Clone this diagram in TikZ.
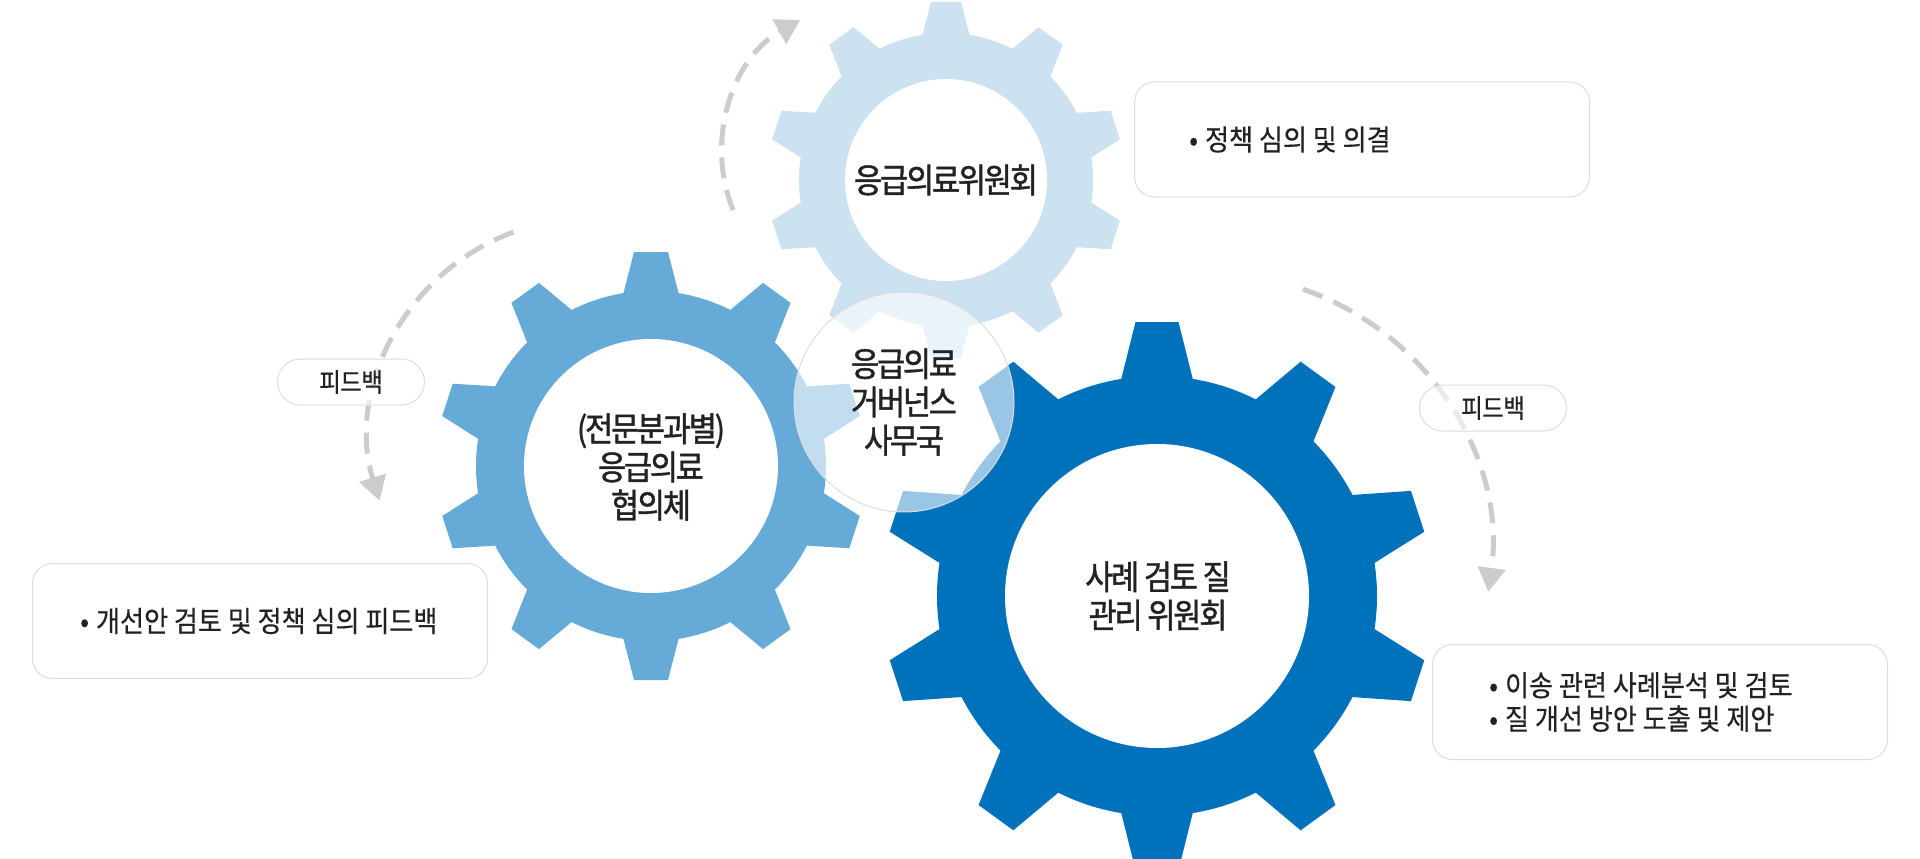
\documentclass[tikz,border=0pt]{standalone}
\usepackage{fontspec}
\setmainfont{Noto Sans CJK KR}
\newfontfamily\gearfont[LetterSpace=-6.5,FakeStretch=0.9,FakeBold=1.2]{Noto Sans CJK KR}
\newfontfamily\boxfont[LetterSpace=0,FakeStretch=0.9,FakeBold=0.4]{Noto Sans CJK KR}
\newfontfamily\pillfont[LetterSpace=-2,FakeStretch=0.9,FakeBold=0.4]{Noto Sans CJK KR}
\usetikzlibrary{arrows.meta}
\definecolor{gearlight}{HTML}{CCE2F1}
\definecolor{gearmid}{HTML}{66AAD7}
\definecolor{geardark}{HTML}{0072BC}
\definecolor{dashgray}{HTML}{CCCCCC}
\definecolor{boxline}{HTML}{DDDDDD}
\definecolor{txt}{HTML}{222222}
% cx, cy, body radius, tip radius, tip half width, base half width, hole radius, colour
\newcommand\drawgear[8]{%
  \pgfmathsetmacro\gwz{#6+(#6-#5)*10/(#4-#3)}%
  \fill[#8] (#1,#2) circle[radius=#3];
  \foreach \a in {18,54,...,342}{%
    \fill[#8,shift={(#1,#2)},rotate=\a] (#3-10,-\gwz) -- (#4,-#5) -- (#4,#5) -- (#3-10,\gwz) -- cycle;}
  \fill[white] (#1,#2) circle[radius=#7];
}
\begin{document}
\begin{tikzpicture}[x=1pt,y=1pt,
  geartext/.style={font=\gearfont\fontsize{34}{38.3}\selectfont, text=txt, align=center, inner sep=0pt},
  boxtext/.style={font=\boxfont\fontsize{29}{33.5}\selectfont, text=txt, align=left, inner sep=0pt},
  infobox/.style={draw=boxline, line width=1pt, fill=white, rounded corners=20pt,
    minimum width=455pt, minimum height=115pt, inner sep=0pt},
  pill/.style={draw=boxline, line width=1pt, fill=white, fill opacity=0.6, text opacity=1,
    rounded corners=23pt, minimum width=147pt, minimum height=46pt, inner sep=0pt,
    font=\pillfont\fontsize{26}{28}\selectfont, text=txt},
  dasharrow/.style={draw=dashgray, line width=5pt, dash pattern=on 21pt off 12pt,
    -{Triangle[length=24pt,width=27pt]}, dashgray}
]
\fill[white] (0,0) rectangle (1920,-859);
\useasboundingbox (0,0) rectangle (1920,-859);

% gears
\drawgear{946}{-180}{147}{178}{15}{23}{101}{gearlight}
\drawgear{651}{-466}{175}{214}{17}{27}{127}{gearmid}
\drawgear{1157}{-596}{220}{274}{21.5}{35}{152}{geardark}

% dashed feedback arrows
\coordinate (ctop) at (874,-153);
\coordinate (cleft) at (588,-437);
\coordinate (cright) at (1212,-553);
\draw[dasharrow] (ctop) ++(202:152) arc[start angle=202, end angle=119, radius=152];
\draw[dasharrow] (cleft) ++(110:218) arc[start angle=110, end angle=197, radius=218];
\draw[dasharrow] (cright) ++(71:279) arc[start angle=71, end angle=-8, radius=279];

% secretariat overlay circle
\node[circle, minimum size=220pt, inner sep=0pt, draw=boxline, line width=1pt, fill=white,
  fill opacity=0.6, text opacity=1, geartext] (sec) at (904,-402) {응급의료\\거버넌스\\사무국};

% gear labels
\node[geartext] (gtop) at (946,-180) {응급의료위원회};
\node[geartext] (gmid) at (651,-467) {(전문분과별)\\응급의료\\협의체};
\node[geartext] (gbig) at (1158,-596) {사례 검토 질\\관리 위원회};

% feedback pills
\node[pill] (fb1) at (351,-382) {피드백};
\node[pill] (fb2) at (1493,-408) {피드백};

% info boxes
\node[infobox] (boxa) at (1362,-139.5) {};
\node[infobox] (boxb) at (260,-621) {};
\node[infobox] (boxc) at (1660,-702) {};
\node[boxtext, anchor=west] (ta) at ([xshift=55pt]boxa.west) {•\hspace{7pt}정책 심의 및 의결};
\node[boxtext, anchor=west] (tb) at ([xshift=48pt]boxb.west) {•\hspace{7pt}개선안 검토 및 정책 심의 피드백};
\node[boxtext, anchor=west] (tc) at ([xshift=57pt]boxc.west) {•\hspace{7pt}이송 관련 사례분석 및 검토\\•\hspace{7pt}질 개선 방안 도출 및 제안};
\end{tikzpicture}
\end{document}
